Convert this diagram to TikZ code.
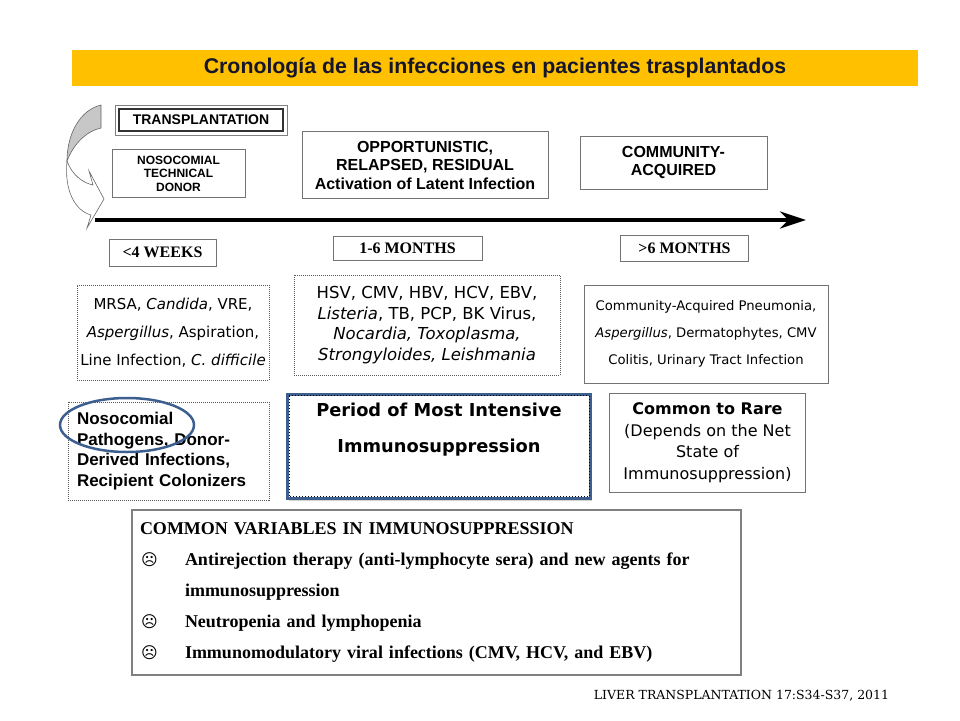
\documentclass[tikz,border=0pt]{standalone}
\usepackage{fontspec}
\setmainfont{Liberation Serif}
\setsansfont{Liberation Sans}
\newfontfamily\tahoma{DejaVu Sans}
\newfontfamily\citefont{DejaVu Serif}
\usetikzlibrary{arrows.meta,shapes.geometric,shadows}
\definecolor{titleYellow}{HTML}{FFC000}
\definecolor{titleText}{HTML}{15152B}
\definecolor{frameBlue}{HTML}{3D5F8F}
\newcommand{\fsz}[2]{\fontsize{#1}{#2}\selectfont}
\newcommand{\sadface}{\hspace*{1pt}\makebox[44pt][l]{{\tahoma\fontsize{16}{16}\selectfont ☹}}}
\tikzstyle{myBox}=[draw=black!55, line width=0.8pt, fill=white, align=center, inner sep=0pt]
\tikzstyle{myDots}=[myBox, draw=black!65, dash pattern=on 1pt off 1pt]
\tikzstyle{myHead}=[myBox, font=\sffamily\bfseries\fsz{16}{18.5}]
\tikzstyle{myTime}=[myBox, font=\rmfamily\bfseries\fsz{16}{18}]
\tikzstyle{myPath}=[-{Stealth[length=26pt,width=17pt]}, line width=4pt]

\begin{document}
\begin{tikzpicture}[x=1pt,y=-1pt]
   \useasboundingbox (0,0) rectangle (960,720);
   \node[fill=titleYellow, minimum width=846pt, minimum height=36pt, inner sep=0pt, font=\sffamily\bfseries\fsz{21.3}{24}, text=titleText] (title) at (495,68) {Cronología de las infecciones en pacientes trasplantados};

   % curved arrow coming into the timeline
   \filldraw[fill=black!22, draw=black!60, line width=0.6pt] (101,105) .. controls (80,110) and (67,134) .. (67,161) .. controls (74,143) and (87,131) .. (101,128) -- cycle;
   \filldraw[fill=white, draw=black!60, line width=0.6pt] (67,161) .. controls (64,192) and (76,211) .. (91,215) -- (87,228) -- (104,199) -- (89,171) -- (93,185) .. controls (83,183) and (72,175) .. (67,161) -- cycle;

   \node[myBox, draw=black!80, line width=1.8pt, minimum width=164pt, minimum height=22pt, font=\sffamily\bfseries\fsz{14}{16}] (tr) at (201,120) {TRANSPLANTATION};
   \draw[black!50, line width=0.7pt] ([shift={(-3pt,3pt)}]tr.north west) rectangle ([shift={(3pt,-3pt)}]tr.south east);
   \node[myBox, minimum width=133pt, minimum height=48pt, font=\sffamily\bfseries\fsz{12}{13.5}] (ntd) at (178.5,173.5) {NOSOCOMIAL\\TECHNICAL\\DONOR};
   \node[myHead, minimum width=246pt, minimum height=67pt] (opp) at (425,165) {OPPORTUNISTIC,\\RELAPSED, RESIDUAL\\Activation of Latent Infection};
   \node[myHead, minimum width=187pt, minimum height=53pt] (com) at (673.5,162.5) {COMMUNITY-\\ACQUIRED};

   % the timeline
   \coordinate (t0) at (95,220);
   \coordinate (t1) at (806,220);
   \draw[myPath] (t0) -- (t1);

   \node[myTime, minimum width=107pt, minimum height=27pt] (wk) at (162.5,252.5) {<4 WEEKS};
   \node[myTime, minimum width=149pt, minimum height=24pt] (mo) at (407.5,248.5) {1-6 MONTHS};
   \node[myTime, minimum width=128pt, minimum height=26pt] (gt) at (684.5,248) {>6 MONTHS};

   \node[myDots, minimum width=192pt, minimum height=95pt, font=\tahoma\fsz{15}{28}] (mrsa) at (173,332.5) {MRSA, \textit{Candida}, VRE,\\\textit{Aspergillus}, Aspiration,\\Line Infection, \textit{C. difficile}};
   \node[myDots, minimum width=266pt, minimum height=100pt, font=\tahoma\fsz{16.5}{20.5}] (hsv) at (427,325) {HSV, CMV, HBV, HCV, EBV,\\\textit{Listeria}, TB, PCP, BK Virus,\\\textit{Nocardia, Toxoplasma,}\\\textit{Strongyloides, Leishmania}};
   \node[myBox, minimum width=244pt, minimum height=98pt, font=\tahoma\fsz{13.2}{27}] (cap) at (706,334) {Community-Acquired Pneumonia,\\\textit{Aspergillus}, Dermatophytes, CMV\\Colitis, Urinary Tract Infection};

   \node[myDots, text width=183pt, inner xsep=9pt, minimum height=98pt, align=left, font=\sffamily\bfseries\fsz{17}{20.5}] (noso) at (168.5,451) {Nosocomial\\Pathogens, Donor-\\Derived Infections,\\Recipient Colonizers};
   \node[draw=frameBlue, line width=2.5pt, ellipse, minimum width=134pt, minimum height=54pt] (ov) at (127,425) {};

   \node[myBox, draw=frameBlue, line width=3pt, minimum width=303pt, minimum height=104pt, drop shadow={shadow xshift=1.5pt, shadow yshift=-3pt, opacity=0.35}, font=\tahoma\bfseries\fsz{17.8}{36}] (per) at (439,446) {Period of Most Intensive\\Immunosuppression\\\mbox{}};
   \draw[dotted, line width=1pt] ([shift={(3pt,-3pt)}]per.north west) rectangle ([shift={(-3pt,3pt)}]per.south east);
   \node[myBox, minimum width=196pt, minimum height=99pt, font=\tahoma\fsz{16}{21.5}] (rare) at (707.5,442.5) {\textbf{Common to Rare}\\(Depends on the Net\\State of\\Immunosuppression)};

   \node[myBox, draw=black!50, line width=1.2pt, text width=593pt, inner xsep=8pt, minimum height=165pt, align=left, font=\rmfamily\bfseries\fsz{18}{31}] (var) at (436.5,592.5) {COMMON VARIABLES IN IMMUNOSUPPRESSION\\
      \sadface Antirejection therapy (anti-lymphocyte sera) and new agents for\\
      \hspace*{45pt}immunosuppression\\
      \sadface Neutropenia and lymphopenia\\
      \sadface Immunomodulatory viral infections (CMV, HCV, and EBV)};

   \node[inner sep=0pt, font=\citefont\fsz{12.5}{14}] (cite) at (741.5,696) {LIVER TRANSPLANTATION 17:S34-S37, 2011};
\end{tikzpicture}
\end{document}
